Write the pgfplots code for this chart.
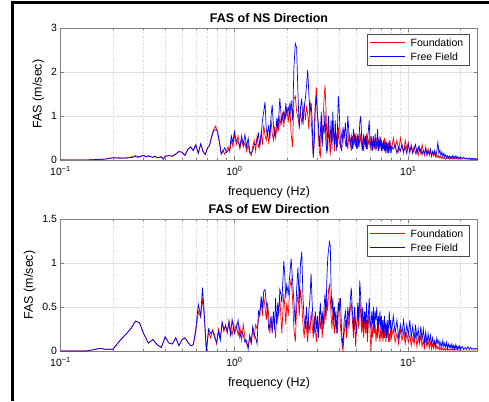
\documentclass[border=0pt]{standalone}
\usepackage{fontspec}
\setmainfont{Liberation Sans}
\usepackage{pgfplots}
\usepackage{pgfplotstable}
\pgfplotsset{compat=1.18}
\definecolor{axgray}{gray}{0.5}
\definecolor{legred}{rgb}{1,0,0}
\definecolor{legblue}{rgb}{0,0,1}

\pgfplotstableread{
f F FF
0.10 0.00 0.00
0.12 0.00 0.00
0.14 0.00 0.00
0.16 0.01 0.01
0.18 0.02 0.02
0.19 0.04 0.03
0.20 0.05 0.05
0.22 0.05 0.04
0.24 0.04 0.05
0.26 0.08 0.06
0.27 0.10 0.08
0.28 0.07 0.06
0.30 0.11 0.10
0.31 0.08 0.07
0.32 0.10 0.09
0.34 0.06 0.06
0.35 0.09 0.08
0.36 0.05 0.05
0.38 0.08 0.07
0.39 0.02 0.02
0.40 0.09 0.08
0.42 0.10 0.10
0.44 0.08 0.09
0.46 0.14 0.13
0.48 0.20 0.19
0.50 0.17 0.18
0.52 0.10 0.11
0.54 0.24 0.25
0.56 0.30 0.29
0.58 0.21 0.22
0.60 0.33 0.35
0.62 0.16 0.15
0.64 0.36 0.37
0.66 0.20 0.19
0.68 0.12 0.13
0.70 0.28 0.27
0.72 0.34 0.33
0.74 0.55 0.52
0.76 0.70 0.66
0.78 0.77 0.69
0.80 0.62 0.66
0.82 0.40 0.42
0.84 0.15 0.13
0.86 0.22 0.20
0.88 0.13 0.28
0.90 0.20 0.17
0.92 0.30 0.22
0.94 0.18 0.25
0.96 0.45 0.55
0.98 0.30 0.40
1.00 0.60 0.65
1.025 0.35 0.45
1.05 0.55 0.40
1.075 0.25 0.30
1.10 0.45 0.55
1.125 0.30 0.35
1.15 0.40 0.58
1.175 0.20 0.30
1.20 0.35 0.50
1.225 0.15 0.20
1.25 0.10 0.15
1.275 0.30 0.22
1.30 0.45 0.35
1.325 0.20 0.35
1.35 0.55 0.45
1.375 0.30 0.60
1.40 0.40 0.30
1.425 0.62 0.55
1.45 0.35 0.90
1.475 0.80 1.10
1.50 0.55 1.32
1.525 0.45 0.70
1.55 0.65 0.55
1.575 0.40 0.80
1.60 0.55 0.50
1.625 0.90 1.00
1.65 0.60 1.25
1.675 0.45 0.80
1.70 0.75 0.55
1.725 0.50 0.60
1.75 0.70 0.90
1.775 0.95 0.70
1.80 0.65 1.00
1.825 1.00 1.40
1.85 0.80 1.10
1.875 0.90 0.85
1.90 1.10 1.00
1.925 0.75 1.10
1.95 1.05 0.90
1.975 0.95 1.30
2.00 1.20 1.05
2.04 0.85 1.20
2.08 1.30 1.00
2.12 0.60 1.35
2.16 0.30 0.90
2.20 1.40 2.10
2.24 1.45 2.65
2.28 1.10 2.55
2.32 0.95 1.50
2.36 0.80 0.70
2.40 1.10 1.20
2.44 0.85 1.40
2.48 1.00 0.80
2.52 1.30 1.20
2.56 0.90 1.40
2.60 1.20 1.70
2.64 1.05 2.05
2.68 0.70 1.50
2.72 1.35 1.10
2.76 1.00 1.30
2.80 0.50 0.90
2.84 0.10 0.05
2.88 0.80 0.40
2.92 1.30 1.20
2.96 1.65 1.45
3.00 1.10 1.00
3.04 0.60 0.85
3.08 0.20 0.30
3.12 0.05 0.60
3.16 0.80 1.10
3.20 0.40 0.30
3.24 1.00 0.80
3.28 1.40 0.60
3.32 1.70 1.10
3.36 1.20 0.40
3.40 0.50 0.15
3.44 0.20 0.70
3.48 0.80 1.00
3.52 0.45 0.40
3.56 0.10 0.55
3.60 0.70 0.90
3.64 0.40 0.25
3.68 0.90 1.10
3.72 0.55 0.60
3.76 0.20 0.35
3.80 0.70 0.90
3.84 0.35 0.50
3.88 0.60 0.20
3.92 0.30 0.80
3.96 0.75 1.45
4.00 0.45 1.20
4.07 0.30 0.40
4.14 0.60 0.20
4.21 0.40 0.75
4.28 0.70 0.50
4.35 0.35 0.85
4.42 0.50 0.30
4.49 0.25 1.00
4.56 0.60 0.60
4.63 0.45 0.35
4.70 0.20 0.55
4.77 0.55 0.25
4.84 0.35 0.70
4.91 0.60 0.40
4.98 0.30 0.55
5.05 0.50 0.25
5.12 0.25 0.60
5.19 0.55 0.30
5.26 0.35 0.85
5.33 0.60 1.00
5.40 0.30 0.45
5.47 0.45 0.20
5.54 0.20 0.60
5.61 0.50 0.35
5.68 0.30 0.55
5.75 0.60 0.25
5.82 0.25 0.50
5.89 0.45 0.65
5.96 0.35 0.90
6.03 0.55 0.40
6.10 0.20 0.30
6.17 0.45 0.55
6.24 0.30 0.20
6.31 0.55 0.45
6.38 0.25 0.30
6.45 0.40 0.60
6.52 0.20 0.25
6.59 0.50 0.40
6.66 0.30 0.70
6.73 0.45 0.20
6.80 0.25 0.45
6.87 0.55 0.30
6.94 0.30 0.50
7.01 0.45 0.20
7.08 0.20 0.40
7.15 0.40 0.25
7.22 0.25 0.45
7.29 0.50 0.20
7.36 0.20 0.35
7.43 0.45 0.15
7.50 0.30 0.40
7.57 0.15 0.25
7.64 0.40 0.35
7.71 0.25 0.15
7.78 0.45 0.30
7.85 0.20 0.40
7.92 0.35 0.20
8.00 0.20 0.30
8.2 0.50 0.25
8.4 0.25 0.35
8.6 0.45 0.15
8.8 0.20 0.30
9.0 0.50 0.20
9.2 0.30 0.35
9.4 0.15 0.20
9.6 0.45 0.30
9.8 0.25 0.15
10.0 0.40 0.35
10.2 0.15 0.20
10.4 0.35 0.30
10.6 0.20 0.15
10.8 0.30 0.25
11.0 0.15 0.35
11.2 0.25 0.15
11.4 0.10 0.30
11.6 0.30 0.20
11.8 0.15 0.25
12.0 0.35 0.12
12.2 0.20 0.22
12.4 0.10 0.15
12.6 0.30 0.25
12.8 0.15 0.10
13.0 0.25 0.20
13.2 0.10 0.15
13.4 0.20 0.25
13.6 0.08 0.10
13.8 0.18 0.20
14.0 0.10 0.12
14.2 0.15 0.22
14.4 0.06 0.10
14.6 0.12 0.20
14.8 0.05 0.40
15.0 0.10 0.15
15.2 0.04 0.22
15.4 0.08 0.10
15.6 0.03 0.18
15.8 0.07 0.08
16.0 0.03 0.15
16.2 0.06 0.07
16.4 0.02 0.12
16.6 0.05 0.06
16.8 0.03 0.10
17.0 0.06 0.05
17.2 0.02 0.09
17.4 0.04 0.04
17.6 0.02 0.08
17.8 0.04 0.05
18.0 0.02 0.10
18.2 0.03 0.04
18.4 0.02 0.08
18.6 0.04 0.05
18.8 0.02 0.09
19.0 0.03 0.04
19.2 0.02 0.07
19.4 0.03 0.03
19.6 0.02 0.06
19.8 0.03 0.04
20.0 0.02 0.07
20.4 0.03 0.03
20.8 0.02 0.06
21.2 0.03 0.03
21.6 0.02 0.05
22.0 0.02 0.02
22.4 0.02 0.05
22.8 0.01 0.02
23.2 0.02 0.04
23.6 0.01 0.02
24.0 0.02 0.04
24.4 0.01 0.02
25.0 0.01 0.03
}\nsdata

\pgfplotstableread{
f F FF
0.10 0.00 0.00
0.12 0.00 0.00
0.14 0.00 0.00
0.15 0.01 0.01
0.17 0.03 0.03
0.18 0.02 0.02
0.20 0.02 0.02
0.22 0.12 0.12
0.24 0.20 0.20
0.255 0.26 0.26
0.27 0.34 0.34
0.285 0.32 0.32
0.30 0.20 0.20
0.32 0.09 0.09
0.34 0.13 0.13
0.36 0.07 0.07
0.38 0.04 0.04
0.40 0.16 0.16
0.42 0.09 0.09
0.44 0.08 0.08
0.46 0.15 0.15
0.48 0.06 0.06
0.50 0.13 0.13
0.52 0.15 0.15
0.54 0.10 0.10
0.56 0.06 0.06
0.58 0.07 0.07
0.60 0.22 0.25
0.62 0.45 0.53
0.64 0.38 0.40
0.655 0.60 0.72
0.67 0.40 0.45
0.69 0.00 0.00
0.71 0.22 0.25
0.73 0.15 0.20
0.75 0.24 0.23
0.77 0.18 0.15
0.79 0.08 0.10
0.81 0.25 0.22
0.83 0.15 0.12
0.85 0.32 0.33
0.87 0.22 0.25
0.89 0.30 0.28
0.91 0.20 0.22
0.93 0.35 0.32
0.95 0.25 0.18
0.97 0.18 0.36
0.99 0.30 0.25
1.00 0.22 0.20
1.025 0.30 0.25
1.05 0.18 0.35
1.075 0.28 0.15
1.10 0.12 0.22
1.125 0.30 0.18
1.15 0.15 0.10
1.175 0.08 0.12
1.20 0.05 0.02
1.225 0.15 0.18
1.25 0.08 0.10
1.275 0.25 0.28
1.30 0.15 0.20
1.325 0.30 0.15
1.35 0.25 0.08
1.375 0.35 0.45
1.40 0.45 0.40
1.425 0.55 0.62
1.45 0.40 0.50
1.475 0.62 0.68
1.50 0.50 0.70
1.525 0.35 0.55
1.55 0.55 0.45
1.575 0.40 0.25
1.60 0.20 0.30
1.625 0.35 0.40
1.65 0.25 0.20
1.675 0.40 0.45
1.70 0.30 0.25
1.725 0.15 0.60
1.75 0.45 0.30
1.775 0.35 0.55
1.80 0.50 0.40
1.825 0.60 0.70
1.85 0.40 0.65
1.875 0.20 0.55
1.90 0.45 0.80
1.925 0.65 1.02
1.95 0.50 0.85
1.975 0.30 0.60
2.00 0.55 0.75
2.04 0.40 0.65
2.08 0.70 0.85
2.12 0.82 1.05
2.16 0.60 0.80
2.20 0.25 0.55
2.24 0.10 0.30
2.28 0.50 0.70
2.32 0.65 0.95
2.36 0.40 0.55
2.40 0.70 1.00
2.44 0.55 1.13
2.48 0.30 0.60
2.52 0.15 0.35
2.56 0.40 0.25
2.60 0.25 0.50
2.64 0.10 0.20
2.68 0.35 0.45
2.72 0.20 0.60
2.76 0.45 0.88
2.80 0.30 0.55
2.84 0.15 0.30
2.88 0.40 0.20
2.92 0.25 0.45
2.96 0.10 0.25
3.00 0.30 0.40
3.04 0.20 0.15
3.08 0.45 0.35
3.12 0.25 0.55
3.16 0.35 0.30
3.20 0.15 0.45
3.24 0.40 0.25
3.28 0.30 0.50
3.32 0.50 0.65
3.36 0.35 0.40
3.40 0.60 0.80
3.44 0.45 1.05
3.48 0.70 1.15
3.52 0.75 1.24
3.56 0.60 1.20
3.60 0.40 0.70
3.64 0.25 0.45
3.68 0.45 0.60
3.72 0.30 0.35
3.76 0.20 0.50
3.80 0.40 0.30
3.84 0.25 0.45
3.88 0.35 0.20
3.92 0.20 0.40
3.96 0.45 0.55
4.00 0.60 0.45
4.07 0.30 0.60
4.14 0.10 0.20
4.21 0.00 0.05
4.28 0.20 0.35
4.35 0.35 0.45
4.42 0.15 0.25
4.49 0.40 0.50
4.56 0.25 0.35
4.63 0.45 0.55
4.70 0.55 0.72
4.77 0.35 0.45
4.84 0.15 0.25
4.91 0.40 0.50
4.98 0.05 0.30
5.05 0.30 0.20
5.12 0.45 0.55
5.19 0.25 0.35
5.26 0.60 0.80
5.33 0.40 0.60
5.40 0.20 0.30
5.47 0.35 0.50
5.54 0.15 0.25
5.61 0.40 0.45
5.68 0.20 0.30
5.75 0.35 0.55
5.82 0.10 0.20
5.89 0.30 0.40
5.96 0.45 0.60
6.03 0.20 0.35
6.10 0.00 0.25
6.17 0.30 0.45
6.24 0.15 0.30
6.31 0.35 0.50
6.38 0.20 0.25
6.45 0.30 0.45
6.52 0.10 0.35
6.59 0.25 0.50
6.66 0.15 0.20
6.73 0.35 0.40
6.80 0.20 0.30
6.87 0.10 0.45
6.94 0.25 0.25
7.01 0.15 0.40
7.08 0.30 0.20
7.15 0.10 0.35
7.22 0.25 0.15
7.29 0.15 0.40
7.36 0.30 0.25
7.43 0.10 0.30
7.50 0.25 0.15
7.57 0.15 0.35
7.64 0.30 0.20
7.71 0.10 0.30
7.78 0.20 0.45
7.85 0.10 0.25
7.92 0.25 0.35
8.00 0.15 0.20
8.2 0.25 0.40
8.4 0.10 0.20
8.6 0.20 0.35
8.8 0.08 0.15
9.0 0.25 0.30
9.2 0.12 0.20
9.4 0.22 0.35
9.6 0.08 0.15
9.8 0.20 0.30
10.0 0.10 0.18
10.2 0.18 0.35
10.4 0.06 0.15
10.6 0.15 0.28
10.8 0.08 0.12
11.0 0.20 0.30
11.2 0.05 0.15
11.4 0.15 0.25
11.6 0.08 0.10
11.8 0.18 0.28
12.0 0.05 0.12
12.2 0.12 0.25
12.4 0.03 0.10
12.6 0.15 0.22
12.8 0.05 0.08
13.0 0.12 0.20
13.2 0.03 0.10
13.4 0.10 0.18
13.6 0.02 0.08
13.8 0.08 0.15
14.0 0.03 0.06
14.2 0.10 0.12
14.4 0.02 0.05
14.6 0.06 0.15
14.8 0.02 0.08
15.0 0.05 0.12
15.2 0.01 0.05
15.4 0.04 0.10
15.6 0.01 0.04
15.8 0.03 0.12
16.0 0.01 0.05
16.2 0.03 0.09
16.4 0.01 0.04
16.6 0.02 0.10
16.8 0.01 0.03
17.0 0.02 0.08
17.2 0.01 0.04
17.4 0.02 0.07
17.6 0.01 0.03
17.8 0.02 0.08
18.0 0.01 0.03
18.2 0.02 0.06
18.4 0.01 0.02
18.6 0.02 0.07
18.8 0.01 0.03
19.0 0.02 0.06
19.2 0.01 0.02
19.4 0.01 0.05
19.6 0.01 0.02
19.8 0.01 0.06
20.0 0.01 0.02
20.4 0.01 0.05
20.8 0.01 0.02
21.2 0.01 0.04
21.6 0.01 0.02
22.0 0.01 0.05
22.4 0.01 0.02
22.8 0.01 0.04
23.2 0.01 0.02
23.6 0.01 0.03
24.0 0.01 0.02
24.4 0.01 0.03
25.0 0.01 0.02
}\ewdata

% legend box drawn at the picture level; #1 = top-right corner of the axis
\newcommand{\faslegend}[1]{%
  \draw[black!70, fill=white, line width=0.5pt]
    ([xshift=-110.5pt,yshift=-6pt]#1) rectangle ([xshift=-8.5pt,yshift=-37pt]#1);
  \fill[legred]
    ([xshift=-107.5pt,yshift=-14.5pt]#1) rectangle ([xshift=-72.5pt,yshift=-15.5pt]#1);
  \fill[legblue]
    ([xshift=-107.5pt,yshift=-28pt]#1) rectangle ([xshift=-72.5pt,yshift=-29pt]#1);
  \node[anchor=west, inner sep=0pt, font=\fontsize{10.5}{12}\selectfont]
    at ([xshift=-67pt,yshift=-15pt]#1) {Foundation};
  \node[anchor=west, inner sep=0pt, font=\fontsize{10.5}{12}\selectfont]
    at ([xshift=-67pt,yshift=-28.5pt]#1) {Free Field};}

\begin{document}
\begin{tikzpicture}
\useasboundingbox (0,0) rectangle (489pt,401pt);
\begin{axis}[at={(60.5pt,241pt)}, anchor=south west, name=ns,
  scale only axis, width=417pt, height=132pt,
  xmode=log, xmin=0.1, xmax=25, ymin=0, ymax=3, ytick={0,1,2,3},
  xtick={0.1,1,10},
  xticklabels={10\textsuperscript{−1},10\textsuperscript{0},10\textsuperscript{1}},
  minor xtick={0.2,0.3,0.4,0.5,0.6,0.7,0.8,0.9,2,3,4,5,6,7,8,9,20},
  grid=both,
  major grid style={black!13, line width=0.4pt},
  minor grid style={black!18, dotted, line width=0.4pt},
  tick align=inside, major tick length=4pt, minor tick length=2.2pt,
  axis line style={axgray, line width=0.5pt},
  every tick/.style={axgray, line width=0.4pt},
  tick label style={font=\fontsize{10.5}{12}\selectfont},
  xticklabel style={yshift=-3pt},
  yticklabel={\pgfmathprintnumber[assume math mode=true]{\tick}},
  label style={font=\fontsize{12.5}{14}\selectfont},
  xlabel style={yshift=-4pt},
  title style={font=\bfseries\fontsize{12.5}{14}\selectfont, yshift=-4pt},
  xlabel={frequency (Hz)}, ylabel={FAS (m/sec)},
  title={FAS of NS Direction}]
  \addplot[red, sharp plot, line width=0.7pt] table[x=f, y=F] {\nsdata};
  \addplot[blue, sharp plot, line width=0.7pt] table[x=f, y=FF] {\nsdata};
\end{axis}
\begin{axis}[at={(60.5pt,50pt)}, anchor=south west, name=ew,
  scale only axis, width=417pt, height=132pt,
  xmode=log, xmin=0.1, xmax=25, ymin=0, ymax=1.5, ytick={0,0.5,1,1.5},
  xtick={0.1,1,10},
  xticklabels={10\textsuperscript{−1},10\textsuperscript{0},10\textsuperscript{1}},
  minor xtick={0.2,0.3,0.4,0.5,0.6,0.7,0.8,0.9,2,3,4,5,6,7,8,9,20},
  grid=both,
  major grid style={black!13, line width=0.4pt},
  minor grid style={black!18, dotted, line width=0.4pt},
  tick align=inside, major tick length=4pt, minor tick length=2.2pt,
  axis line style={axgray, line width=0.5pt},
  every tick/.style={axgray, line width=0.4pt},
  tick label style={font=\fontsize{10.5}{12}\selectfont},
  xticklabel style={yshift=-3pt},
  yticklabel={\pgfmathprintnumber[assume math mode=true]{\tick}},
  label style={font=\fontsize{12.5}{14}\selectfont},
  xlabel style={yshift=-4pt},
  title style={font=\bfseries\fontsize{12.5}{14}\selectfont, yshift=-4pt},
  xlabel={frequency (Hz)}, ylabel={FAS (m/sec)},
  title={FAS of EW Direction}]
  \addplot[red, sharp plot, line width=0.7pt] table[x=f, y=F] {\ewdata};
  \addplot[blue, sharp plot, line width=0.7pt] table[x=f, y=FF] {\ewdata};
\end{axis}
\faslegend{ns.north east}
\faslegend{ew.north east}
\draw[line width=2.8pt] (12.5pt,0pt) -- (12.5pt,399.6pt);
\draw[line width=2.8pt] (11.1pt,398.2pt) -- (489pt,398.2pt);
\end{tikzpicture}
\end{document}
